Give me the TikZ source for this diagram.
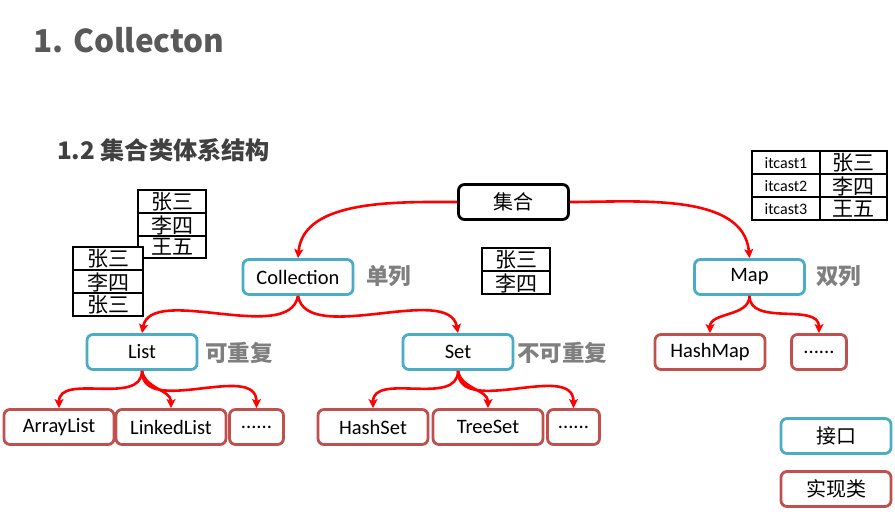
\documentclass[tikz,border=0pt]{standalone}
\usepackage{fontspec}
\setmainfont{Carlito}
\newfontfamily\cjk{Noto Sans CJK SC}
\usetikzlibrary{arrows.meta}
\definecolor{ifblue}{HTML}{4BACC6}
\definecolor{imred}{HTML}{C0504D}
\definecolor{titlegray}{HTML}{595959}
\definecolor{subgray}{HTML}{404040}
\definecolor{notegray}{HTML}{7F7F7F}
\definecolor{arrred}{HTML}{FF0000}
\begin{document}
\begin{tikzpicture}[x=1pt,y=-1pt,
  box/.style={draw, line width=2.8pt, rounded corners=6pt, fill=white,
    minimum width=110pt, minimum height=35pt, inner sep=0pt,
    font=\fontsize{20.5}{20.5}\selectfont},
  rootbox/.style={box, draw=black},
  ifbox/.style={box, draw=ifblue},
  imbox/.style={box, draw=imred},
  zh/.style={font=\cjk\fontsize{20}{20}\selectfont},
  note/.style={anchor=west, inner sep=0pt, text=notegray,
    font=\cjk\bfseries\fontsize{22.5}{22.5}\selectfont},
  link/.style={draw=arrred, line width=2.6pt,
    -{Stealth[length=9pt,width=9pt,inset=2pt]}},
  tab/.style={draw=black, line width=2.8pt, fill=white},
  cell/.style={inner sep=0pt, font=\cjk\fontsize{21}{21}\selectfont},
  keycell/.style={inner sep=0pt, font=\fontsize{16}{16}\selectfont}
]
\useasboundingbox (0,0) rectangle (895,516);
\fill[white] (0,0) rectangle (895,516);

% titles
\node[anchor=base west, inner sep=0pt, text=titlegray,
  font=\cjk\bfseries\fontsize{31.5}{31.5}\selectfont] (title) at (33,53) {1. Collecton};
\node[anchor=base west, inner sep=0pt, text=subgray,
  font=\cjk\bfseries\fontsize{24.2}{24.2}\selectfont] (sub) at (57,160) {1.2 集合类体系结构};

% tables
\draw[tab] (138,190) rectangle (206,258);
\draw[black, line width=2.8pt] (138,213) -- (206,213) (138,236) -- (206,236);
\node[cell] (a1) at (172,202) {张三};
\node[cell] (a2) at (172,225) {李四};
\node[cell] (a3) at (172,247) {王五};

\draw[tab] (73,247) rectangle (143,316);
\draw[black, line width=2.8pt] (73,270) -- (143,270) (73,293) -- (143,293);
\node[cell] (b1) at (108,259) {张三};
\node[cell] (b2) at (108,282) {李四};
\node[cell] (b3) at (108,305) {张三};

\draw[tab] (482,248) rectangle (550,294);
\draw[black, line width=2.8pt] (482,271) -- (550,271);
\node[cell] (c1) at (516,260) {张三};
\node[cell] (c2) at (516,283) {李四};

\draw[tab] (752,151) rectangle (887,220);
\draw[black, line width=2.8pt] (752,174) -- (887,174) (752,197) -- (887,197) (820,151) -- (820,220);
\node[keycell] (d1) at (786,163) {itcast1};
\node[keycell] (d2) at (786,186) {itcast2};
\node[keycell] (d3) at (786,209) {itcast3};
\node[cell] (e1) at (853,163) {张三};
\node[cell] (e2) at (853,186) {李四};
\node[cell] (e3) at (853,209) {王五};

% nodes
\node[rootbox, zh] (jihe) at (513.5,202) {集合};
\node[ifbox] (coll) at (298,277) {Collection};
\node[ifbox] (map) at (749.5,277) {Map};
\node[ifbox] (list) at (142,352) {List};
\node[ifbox] (set) at (458,352) {Set};
\node[imbox] (arr) at (59,427) {ArrayList};
\node[imbox] (lnk) at (171,427) {LinkedList};
\node[imbox, minimum width=54pt] (ldots) at (256.5,427) {......};
\node[imbox] (hset) at (373,427) {HashSet};
\node[imbox] (tset) at (488,427) {TreeSet};
\node[imbox, minimum width=52pt] (sdots) at (573.5,427) {......};
\node[imbox] (hmap) at (710,352) {HashMap};
\node[imbox, minimum width=55pt] (mdots) at (819,352) {......};
\node[ifbox, zh] (jk) at (836,436) {接口};
\node[imbox, zh] (sx) at (836,489) {实现类};

% notes
\node[note] (n1) at (366,276) {单列};
\node[note] (n2) at (816,276) {双列};
\node[note] (n3) at (205,353) {可重复};
\node[note] (n4) at (517,353) {不可重复};

% connectors
\draw[link] (jihe.west) to[out=180,in=85,looseness=0.9] (coll.north);
\draw[link] (jihe.east) to[out=0,in=95,looseness=0.9] (map.north);
\draw[link] (coll.south) to[out=-100,in=80,looseness=0.8] (list.north);
\draw[link] (coll.south) to[out=-80,in=100,looseness=0.8] (set.north);
\draw[link] (map.south) to[out=-90,in=90] (hmap.north);
\draw[link] (map.south) to[out=-90,in=90] (mdots.north);
\draw[link] (list.south) to[out=-90,in=90] (arr.north);
\draw[link] (list.south) to[out=-80,in=90] (lnk.north);
\draw[link] (list.south) to[out=-90,in=90] (ldots.north);
\draw[link] (set.south) to[out=-90,in=90] (hset.north);
\draw[link] (set.south) to[out=-80,in=90] (tset.north);
\draw[link] (set.south) to[out=-90,in=90] (sdots.north);
\end{tikzpicture}
\end{document}
